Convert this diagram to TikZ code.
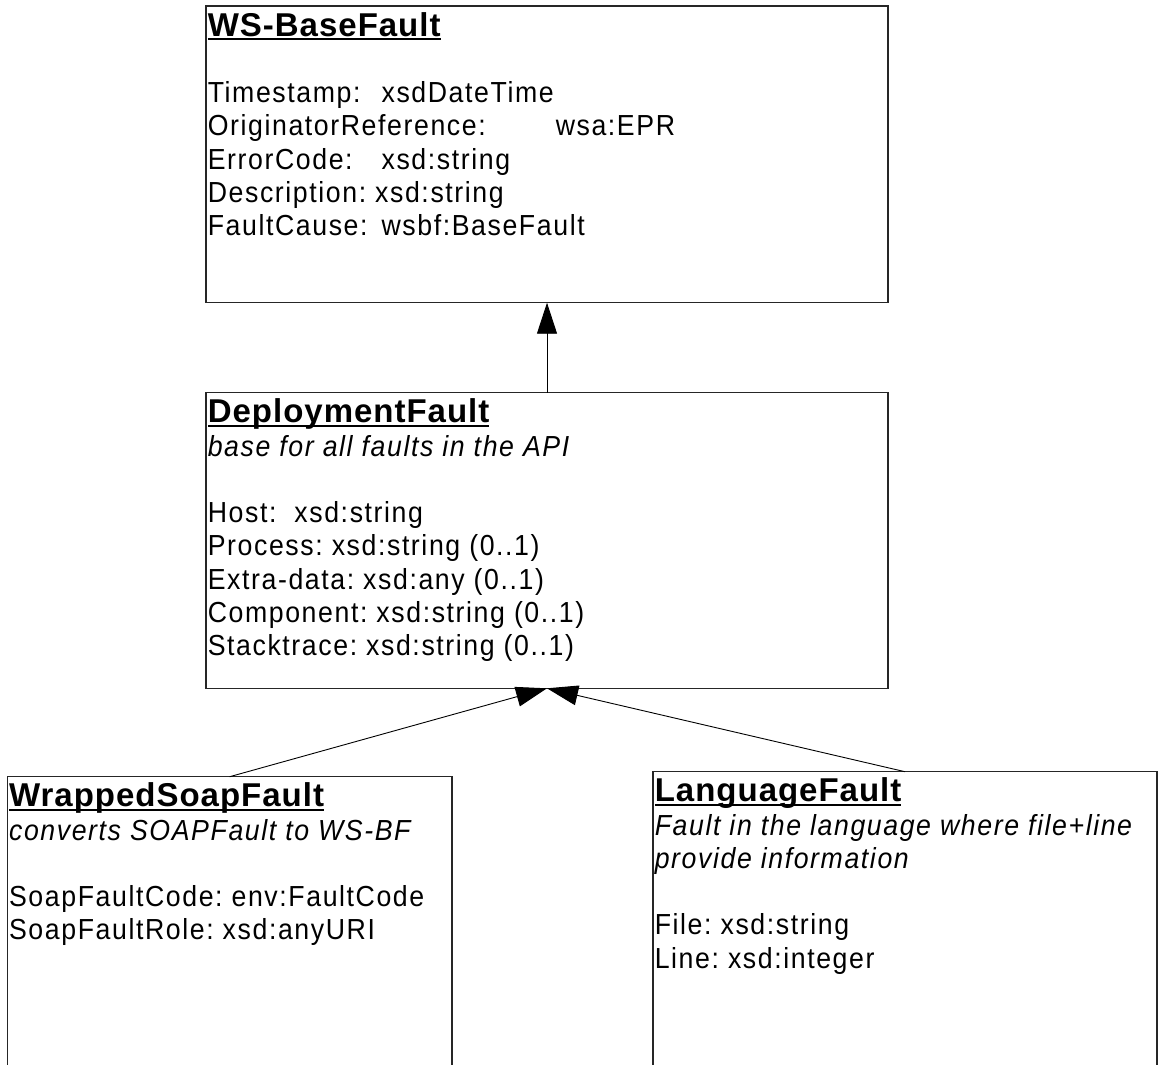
\documentclass[tikz,border=0pt]{standalone}
\usepackage{fontspec}
\setmainfont{Liberation Sans}[LetterSpace=5.5,FakeStretch=0.92]
\newfontfamily\titlefam{Liberation Sans}[LetterSpace=3]
\usetikzlibrary{arrows.meta}
\newcommand{\ulbox}[1]{\setbox0\hbox{#1}\rlap{\rule[-4pt]{\wd0}{1.6pt}}\box0}
\newcommand{\umlname}[1]{{\titlefam\bfseries\fontsize{33pt}{33.3pt}\selectfont\ulbox{#1}}}
\newcommand{\umlbody}[3]{\parbox[c][#2][t]{#1}{\fontsize{29pt}{33.3pt}\selectfont\frenchspacing\setlength{\parindent}{0pt}\setlength{\leftskip}{1.8pt}\rule{0pt}{30pt}#3\par}}
\tikzset{
  classbox/.style={draw=black!85, line width=1.3pt, rectangle, inner sep=0pt, outer sep=0pt, anchor=north west},
  inherit/.style={draw=black, line width=0.9pt, -{Triangle[length=31pt,width=20pt]}}
}
\begin{document}
\begin{tikzpicture}[x=1pt,y=-1pt]
\useasboundingbox (0,0) rectangle (1159,1065);
\fill[white] (0,0) rectangle (1159,1065);
\clip (0,0) rectangle (1159,1065);
\node[classbox] (base) at (206,6) {\umlbody{682pt}{296.7pt}{%
\umlname{WS-BaseFault}\\[33.3pt]
\makebox[173.8pt][l]{Timestamp:}xsdDateTime\\
\makebox[348pt][l]{OriginatorReference:}wsa:EPR\\
\makebox[173.8pt][l]{ErrorCode:}xsd:string\\
Description: xsd:string\\
\makebox[173.8pt][l]{FaultCause:}wsbf:BaseFault}};
\node[classbox] (deploy) at (206,392.7) {\umlbody{682pt}{295.6pt}{%
\umlname{DeploymentFault}\\
\textit{base for all faults in the API}\\[33.3pt]
Host:\ \ xsd:string\\
Process: xsd:string (0..1)\\
Extra-data: xsd:any (0..1)\\
Component: xsd:string (0..1)\\
Stacktrace: xsd:string (0..1)}};
\node[classbox] (wrapped) at (7.3,776.7) {\umlbody{444.7pt}{310pt}{%
\umlname{WrappedSoapFault}\\
\textit{converts SOAPFault to WS-BF}\\[33.3pt]
SoapFaultCode: env:FaultCode\\
SoapFaultRole: xsd:anyURI}};
\node[classbox] (lang) at (653,771.7) {\umlbody{504pt}{310pt}{%
\umlname{LanguageFault}\\
\textit{Fault in the language where file+line}\\
\textit{provide information}\\[33.3pt]
File: xsd:string\\
Line: xsd:integer}};
\draw[inherit] (deploy.north) -- (base.south);
\draw[inherit] (wrapped.north) -- (deploy.south);
\draw[inherit] (lang.north) -- (deploy.south);
\end{tikzpicture}
\end{document}
